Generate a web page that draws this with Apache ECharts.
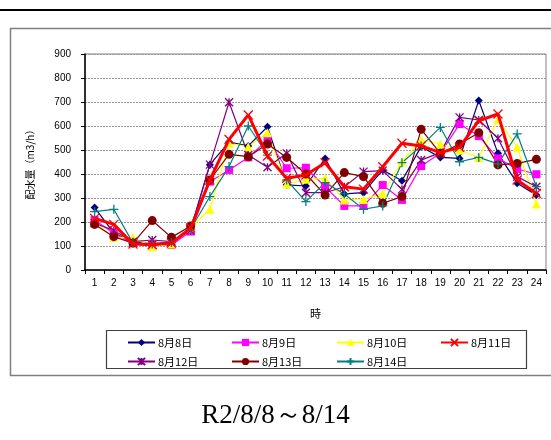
<!DOCTYPE html>
<html>
<head>
<meta charset="utf-8">
<script src="https://cdn.jsdelivr.net/npm/echarts@6/dist/echarts.min.js"></script>
<style>
  html, body { margin: 0; padding: 0; background: #fff; }
  #chart { width: 551px; height: 440px; }
</style>
</head>
<body>
<div id="chart"></div>
<script>
// Hourly distributed water volume (m3/h), 8/8 - 8/14
const hours = ['1','2','3','4','5','6','7','8','9','10','11','12','13','14','15','16','17','18','19','20','21','22','23','24'];
const yTicks = [0, 100, 200, 300, 400, 500, 600, 700, 800, 900];

const d0808 = [260, 155, 115, 110, 115, 170, 439, 533, 517, 597, 355, 350, 465, 317, 322, 417, 372, 514, 469, 465, 706, 486, 361, 312];
const d0809 = [208, 153, 112, 103, 104, 160, 368, 417, 469, 542, 424, 426, 347, 267, 267, 354, 292, 433, 486, 608, 558, 465, 421, 399];
const d0810 = [200, 135, 136, 97, 108, 175, 253, 528, 514, 572, 358, 378, 382, 292, 294, 319, 451, 542, 525, 500, 469, 628, 511, 275];
const d0811 = [215, 190, 108, 105, 112, 175, 375, 544, 646, 475, 382, 396, 447, 347, 337, 430, 528, 517, 489, 511, 622, 650, 375, 319];
const d0812 = [195, 165, 118, 125, 118, 165, 439, 699, 479, 428, 486, 322, 322, 347, 410, 414, 336, 458, 489, 636, 625, 549, 389, 347];
const d0813 = [190, 139, 112, 206, 136, 183, 375, 482, 472, 525, 469, 400, 312, 406, 389, 278, 306, 586, 486, 525, 572, 438, 444, 461];
const d0814 = [243, 253, 112, 108, 115, 170, 306, 431, 600, 479, 375, 285, 364, 317, 253, 267, 447, 517, 594, 451, 469, 442, 567, 347];

const names = ['8月8日', '8月9日', '8月10日', '8月11日', '8月12日', '8月13日', '8月14日'];
const colors = ['#000080', '#ff00ff', '#ffff00', '#ff0000', '#800080', '#800000', '#008080'];
const values = [d0808, d0809, d0810, d0811, d0812, d0813, d0814];

const crossPath = 'path://M0,0L10,10M10,0L0,10';
const starPath = 'path://M0,0L10,10M10,0L0,10M5,0L5,10';
const plusPath = 'path://M5,0L5,10M0,5L10,5';
const symbols = ['diamond', 'rect', 'triangle', crossPath, starPath, 'circle', plusPath];
const symbolSizes = [8, 8, 9, 9, 8, 9, 9];
const lineWidths = [1.2, 1.2, 1.2, 3, 1.2, 1.2, 1.2];
const strokeOnly = [false, false, false, true, true, false, true];

const series = values.map((v, i) => ({
  name: names[i],
  type: 'line',
  data: v,
  symbol: symbols[i],
  symbolSize: symbolSizes[i],
  showAllSymbol: true,
  lineStyle: { color: colors[i], width: lineWidths[i] },
  itemStyle: strokeOnly[i]
    ? { color: colors[i], borderColor: colors[i], borderWidth: 1.3 }
    : { color: colors[i], borderWidth: 0 },
  emphasis: { disabled: true },
  z: i === 3 ? 5 : 3
}));

// legend: 4 columns x 2 rows, one legend component per entry
const legendCols = [127, 231, 336, 440];
const legendRows = [337, 356];
const legends = names.map((n, i) => ({
  data: [n],
  left: legendCols[i % 4],
  top: legendRows[Math.floor(i / 4)],
  itemWidth: 27,
  itemHeight: 9,
  itemGap: 0,
  padding: 0,
  selectedMode: false,
  textStyle: { fontFamily: 'Noto Sans CJK JP', fontSize: 11, color: '#000', padding: [0, 0, 0, -2] }
}));

const chart = echarts.init(document.getElementById('chart'), null, { renderer: 'canvas' });
chart.setOption({
  animation: false,
  backgroundColor: '#fff',
  textStyle: { fontFamily: 'Liberation Sans' },
  grid: { left: 85, top: 54, right: 5, bottom: 170, show: true, borderColor: '#808080', borderWidth: 1 },
  legend: legends,
  xAxis: {
    type: 'category',
    data: hours,
    boundaryGap: true,
    name: '時',
    nameLocation: 'middle',
    nameGap: 38,
    nameTextStyle: { fontFamily: 'Noto Sans CJK JP', fontSize: 11, color: '#000' },
    axisLine: { lineStyle: { color: '#000', width: 1.5 } },
    axisTick: { show: true, inside: false, length: 4, alignWithLabel: false, lineStyle: { color: '#000' } },
    axisLabel: { color: '#000', fontSize: 10, margin: 8 },
    splitLine: { show: false }
  },
  yAxis: {
    type: 'value',
    min: yTicks[0],
    max: yTicks[yTicks.length - 1],
    interval: 100,
    name: '配水量（m3/h）',
    nameLocation: 'middle',
    nameRotate: 90,
    nameGap: 50,
    nameTextStyle: { fontFamily: 'Noto Sans CJK JP', fontSize: 10, color: '#000' },
    axisLine: { show: true, lineStyle: { color: '#000', width: 1.5 } },
    axisTick: { show: true, inside: false, length: 4, lineStyle: { color: '#000' } },
    axisLabel: { color: '#000', fontSize: 10, margin: 14 },
    splitLine: { show: true, lineStyle: { color: '#999', type: [2, 1], width: 1 } }
  },
  series: series,
  graphic: [
    { type: 'line', shape: { x1: 0, y1: 10, x2: 551, y2: 10 }, style: { stroke: '#000', lineWidth: 2 }, silent: true },
    { type: 'rect', shape: { x: 10.5, y: 28.5, width: 560, height: 347 }, style: { fill: 'none', stroke: '#808080', lineWidth: 1.5 }, silent: true, z: -1 },
    { type: 'rect', shape: { x: 106.5, y: 330.5, width: 420, height: 38 }, style: { fill: 'none', stroke: '#404040', lineWidth: 1.2 }, silent: true },
    {
      type: 'text', left: 'center', top: 402,
      style: { text: 'R2/8/8～8/14', font: '27px "Liberation Serif"', fill: '#000' },
      silent: true
    }
  ]
});
</script>
</body>
</html>
